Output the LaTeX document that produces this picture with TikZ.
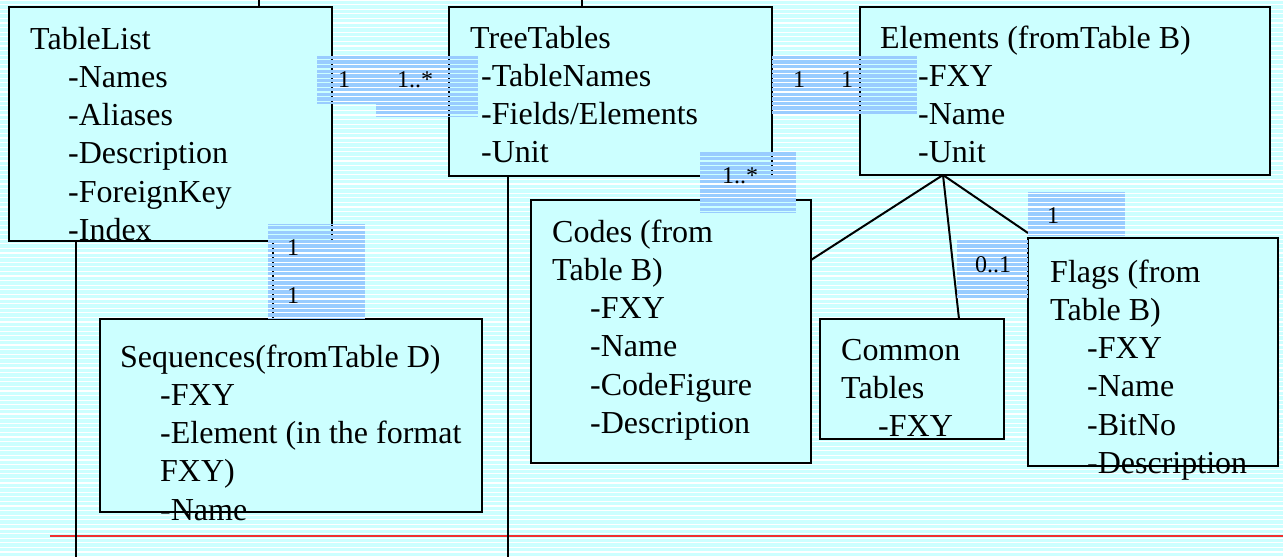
\documentclass[tikz,border=0pt]{standalone}
\usepackage{fontspec}
\setmainfont{Liberation Serif}
\usepackage{tikz}
\usetikzlibrary{fit}

\definecolor{sheetcyan}{HTML}{CCFFFF}
\definecolor{tagblue}{HTML}{99CCFF}
\definecolor{rulered}{HTML}{F03030}

\newcommand\entryfont{\fontsize{32}{38}\selectfont}
\newcommand\tagfont{\fontsize{24}{28}\selectfont}

% striped backing behind a multiplicity label
\newcommand\tagpatch[4]{%
  \begin{scope}
    \clip (#1,#2) rectangle (#3,#4);
    \foreach \k in {0,...,121}
      \draw [tag stripe] (#1,\k*4.6+2.3) -- (#3,\k*4.6+2.3);
  \end{scope}}

\begin{document}
\begin{tikzpicture}[x=1pt, y=-1pt,
  table box/.style={draw, line width=2pt, fill=sheetcyan, inner sep=0pt, outer sep=0pt},
  entry/.style={anchor=base west, inner sep=0pt, font=\entryfont},
  tag/.style={anchor=base west, inner sep=0pt, font=\tagfont},
  tag stripe/.style={tagblue, line width=3.5pt},
  link/.style={line width=2pt}]

\useasboundingbox (0,0) rectangle (1283,557);
\fill [sheetcyan] (0,0) rectangle (1283,557);
\foreach \k in {0,...,121}
  \draw [white, line width=1.2pt] (0,\k*4.6) -- (1283,\k*4.6);

% tables
\node [table box, fit={(9,7) (332,241)}] (tablelist) {};
\node [table box, fit={(449,7) (772,176)}] (treetables) {};
\node [table box, fit={(860,7) (1270,175)}] (elements) {};
\node [table box, fit={(531,200) (811,463)}] (codes) {};
\node [table box, fit={(820,319) (1004,439)}] (common) {};
\node [table box, fit={(1028,238) (1278,466)}] (flags) {};
\node [table box, fit={(100,319) (482,512)}] (sequences) {};

% loose ends
\coordinate (top-a) at (259,0);
\coordinate (top-b) at (582,0);
\coordinate (foot-a) at (76,557);
\coordinate (foot-b) at (508,557);
\coordinate (rule-l) at (50,536);
\coordinate (rule-r) at (1283,536);

\draw [rulered, line width=2.6pt] (rule-l) -- (rule-r);
\draw [link] (top-a) -- (top-a |- tablelist.north);
\draw [link] (top-b) -- (top-b |- treetables.north);
\draw [link] (foot-a |- tablelist.south) -- (foot-a);
\draw [link] (foot-b |- treetables.south) -- (foot-b);

% associations
\coordinate (tl-out) at ([yshift=21pt]tablelist.east);
\draw [link] (tl-out) -- (tl-out -| treetables.west);
\coordinate (tt-out) at ([yshift=-12.5pt]treetables.east);
\draw [link] (tt-out) -- (tt-out -| elements.west);
\coordinate (tl-down) at ([xshift=264pt]tablelist.south west);
\draw [link] (tl-down) -- (tl-down |- sequences.north);

\coordinate (hub) at ([xshift=83pt]elements.south west);
\draw [link] (hub) -- ([yshift=-60pt]codes.north east);
\draw [link] (hub) -- ([xshift=139pt]common.north west);
\draw [link] (hub) -- ([yshift=5pt]flags.north west);

% label backings
\tagpatch{317}{56}{448}{103}
\tagpatch{376}{56}{478}{116}
\tagpatch{772}{56}{917}{113}
\tagpatch{700}{152}{796}{212}
\tagpatch{268}{224}{365}{318}
\tagpatch{957}{240}{1028}{298}
\tagpatch{1028}{192}{1125}{235}

% table contents
\node [entry] (tablelist-title) at (30,49) {TableList};
\foreach \t [count=\i] in {Names, Aliases, Description, ForeignKey, Index}
  \node [entry] (tablelist-\i) at (68,49+\i*38.3) {-\t};

\node [entry] (treetables-title) at (470,48) {TreeTables};
\foreach \t [count=\i] in {TableNames, {Fields/Elements}, Unit}
  \node [entry] (treetables-\i) at (481,48+\i*38.3) {-\t};

\node [entry] (elements-title) at (880,48) {Elements (fromTable B)};
\foreach \t [count=\i] in {FXY, Name, Unit}
  \node [entry] (elements-\i) at (918,48+\i*38.3) {-\t};

\node [entry] (codes-title) at (552,242) {Codes (from};
\node [entry] (codes-title2) at (552,280.3) {Table B)};
\foreach \t [count=\i] in {FXY, Name, CodeFigure, Description}
  \node [entry] (codes-\i) at (590,280.3+\i*38.3) {-\t};

\node [entry] (common-title) at (841,360) {Common};
\node [entry] (common-title2) at (841,398.3) {Tables};
\node [entry] (common-1) at (878,436.6) {-FXY};

\node [entry] (flags-title) at (1050,282) {Flags (from};
\node [entry] (flags-title2) at (1050,320.3) {Table B)};
\foreach \t [count=\i] in {FXY, Name, BitNo, Description}
  \node [entry] (flags-\i) at (1087,320.3+\i*38.3) {-\t};

\node [entry] (sequences-title) at (120,367) {Sequences(fromTable D)};
\foreach \t [count=\i] in {-FXY, -Element (in the format, FXY), -Name}
  \node [entry] (sequences-\i) at (160,367+\i*38.3) {\t};

% multiplicities
\node [tag] (tl-one) at (338,87) {1};
\node [tag] (tt-many) at (397,87) {1..*};
\node [tag] (tt-one) at (793,87) {1};
\node [tag] (el-one) at (841,87) {1};
\node [tag] (codes-many) at (722,183) {1..*};
\node [tag] (seq-one-a) at (287,255) {1};
\node [tag] (seq-one-b) at (287,303) {1};
\node [tag] (common-opt) at (975,272) {0..1};
\node [tag] (flags-one) at (1047,223) {1};

\end{tikzpicture}
\end{document}
